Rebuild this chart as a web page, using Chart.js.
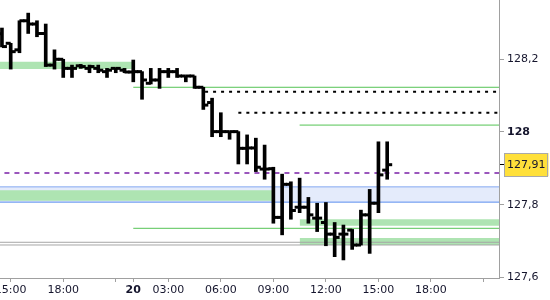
<!DOCTYPE html>
<html><head><meta charset="utf-8">
<script src="https://cdn.jsdelivr.net/npm/chart.js@4.4.1/dist/chart.umd.min.js"></script>
<style>html,body{margin:0;padding:0;background:#fff}canvas{display:block}</style>
</head><body>
<canvas id="c" width="550" height="300"></canvas>
<script>
// ---- data (30-minute OHLC bars) ----
const barTimes = ['14:30','15:00','15:30','16:00','16:30','17:00','17:30','18:00','18:30','19:00','19:30','20:00','20:30','21:00','21:30',
  '01:00','01:30','02:00','02:30','03:00','03:30','04:00','04:30','05:00','05:30','06:00','06:30','07:00','07:30','08:00','08:30',
  '09:00','09:30','10:00','10:30','11:00','11:30','12:00','12:30','13:00','13:30','14:00','14:30','15:00','15:30'];
const openP  = [128.270,128.244,128.226,128.306,128.297,128.271,128.184,128.200,128.175,128.182,128.175,128.175,128.166,128.175,128.170,
  128.165,128.166,128.134,128.143,128.166,128.166,128.154,128.154,128.123,128.081,128.001,128.001,128.001,127.955,127.956,127.898,
  127.899,127.765,127.856,127.793,127.793,127.763,127.751,127.719,127.719,127.730,127.689,127.772,127.804,127.895];
const highP  = [128.286,128.244,128.306,128.327,128.306,128.297,128.226,128.200,128.184,128.186,128.184,128.184,128.175,128.175,128.175,
  128.198,128.166,128.175,128.175,128.175,128.175,128.154,128.154,128.123,128.093,128.053,128.001,128.001,127.992,127.983,127.964,
  127.903,127.884,127.863,127.873,127.820,127.804,127.806,127.751,127.744,127.732,127.785,127.842,127.973,127.973];
const lowP   = [128.234,128.173,128.218,128.271,128.262,128.180,128.173,128.150,128.150,128.175,128.163,128.163,128.150,128.163,128.163,
  128.138,128.090,128.132,128.120,128.150,128.150,128.138,128.120,128.062,127.987,127.987,127.980,127.912,127.912,127.891,127.870,
  127.749,127.717,127.760,127.778,127.749,127.726,127.687,127.657,127.648,127.677,127.689,127.666,127.778,127.870];
const closeP = [128.235,128.221,128.306,128.297,128.271,128.184,128.200,128.175,128.175,128.180,128.180,128.170,128.170,128.175,128.165,
  128.166,128.143,128.143,128.166,128.166,128.154,128.154,128.123,128.074,128.001,128.001,128.001,127.955,127.956,127.903,127.898,
  127.765,127.856,127.784,127.793,127.772,127.763,127.719,127.710,127.719,127.689,127.772,127.804,127.882,127.910];
const lastPrice = 127.91;

// axes
const yTickValues = [127.6, 127.8, 127.91, 128, 128.2];
const xTickPositions = [1, 7, 13, 15, 19, 25, 31, 37, 43, 49, 55];
const xTickLabels = ['15:00','18:00','','20','03:00','06:00','09:00','12:00','15:00','18:00',''];
const xRange = [-0.222, 56.77];
const yRange = [127.5983, 128.3631];

// horizontal levels (value, start position in bar units)
const greenLineLevels = [128.123, 128.019, 127.735];
const greenLineStarts = [15, 34, 15];
const dottedLevels = [128.111, 128.053];
const dottedStarts = [23.2, 27];
const purpleLevel = 127.887;
const grayLevels = [127.6966, 127.6891];
const blueZone = [127.807, 127.849];
const greenZoneLow  = [128.1735, 127.811, 127.742, 127.689];
const greenZoneHigh = [128.1935, 127.840, 127.760, 127.708];
const greenZoneFrom = [-1, -1, 34, 34];
const greenZoneTo   = [14.85, 30.84, 60, 60];

// ---- build ----
const FAR_L = -2, FAR_R = 60;
const seg = (a, b, v) => [{x:a, y:v}, {x:b, y:v}];
const fmt = v => String(+v.toFixed(2)).replace('.', ',');
const FONT = 'DejaVu Sans';
const TXT = '#15152d';

const datasets = [];
datasets.push({type:'bar', data: barTimes.map((t,i)=>({x:i, y:[lowP[i], highP[i]]})),
  backgroundColor:'#000', borderWidth:0, barThickness:3, order:0});
datasets.push({type:'line', data: openP.map((v,i)=>({x:i, y:v})), showLine:false,
  pointStyle:'dash', pointRotation:180, pointRadius:5, pointBorderWidth:3, pointBorderColor:'#000', pointBackgroundColor:'#000', order:0});
datasets.push({type:'line', data: closeP.map((v,i)=>({x:i, y:v})), showLine:false,
  pointStyle:'dash', pointRotation:0, pointRadius:5, pointBorderWidth:3, pointBorderColor:'#000', pointBackgroundColor:'#000', order:0});

greenLineLevels.forEach((v,k)=>datasets.push({type:'line', data: seg(greenLineStarts[k], FAR_R, v),
  borderColor:'#55c455', borderWidth:1, pointRadius:0, fill:false, order:5}));
dottedLevels.forEach((v,k)=>datasets.push({type:'line', data: seg(dottedStarts[k], FAR_R, v),
  borderColor:'#000', borderWidth:2, borderDash:[3,5], pointRadius:0, fill:false, order:5}));
datasets.push({type:'line', data: seg(FAR_L, FAR_R, purpleLevel), borderColor:'#7a1fa6', borderWidth:1.5,
  borderDash:[5,5], pointRadius:0, fill:false, order:5});
grayLevels.forEach(v=>datasets.push({type:'line', data: seg(FAR_L, FAR_R, v),
  borderColor:'#a6a6a6', borderWidth:1, pointRadius:0, fill:false, order:5}));
// blue zone borders
datasets.push({type:'line', data: seg(FAR_L, FAR_R, blueZone[1]), borderColor:'#86a9f2', borderWidth:1, pointRadius:0, fill:false, order:6});
datasets.push({type:'line', data: seg(FAR_L, FAR_R, blueZone[0]), borderColor:'#5b8ef0', borderWidth:1, pointRadius:0, fill:false, order:6});
// green zones
greenZoneLow.forEach((v,k)=>datasets.push({type:'line', data: seg(greenZoneFrom[k], greenZoneTo[k], v),
  borderWidth:0, borderColor:'rgba(0,0,0,0)', pointRadius:0, fill:{value: greenZoneHigh[k]}, backgroundColor:'#aee4b2', order:10}));
// blue zone fill
datasets.push({type:'line', data: seg(FAR_L, FAR_R, blueZone[0]), borderWidth:0, borderColor:'rgba(0,0,0,0)',
  pointRadius:0, fill:{value: blueZone[1]}, backgroundColor:'#e4ebfb', order:12});

const priceBox = {
  id: 'priceBox',
  afterDraw(chart) {
    const s = chart.scales.y, ctx = chart.ctx;
    const y = s.getPixelForValue(lastPrice);
    ctx.save();
    ctx.font = '11px "' + FONT + '"';
    const w = ctx.measureText(fmt(lastPrice)).width;
    const left = s.left + 5 + 3 - 3;
    ctx.strokeStyle = '#a9a9a9';
    ctx.lineWidth = 1;
    ctx.strokeRect(Math.round(left) + 0.5, Math.round(y - 11.6) + 0.5, Math.round(w + 5), 23);
    ctx.restore();
  }
};

new Chart(document.getElementById('c'), {
  type: 'bar',
  data: { datasets },
  plugins: [priceBox],
  options: {
    responsive: false, animation: false, devicePixelRatio: 1, events: [],
    layout: { padding: 0, autoPadding: false },
    plugins: { legend: {display:false}, tooltip: {enabled:false} },
    scales: {
      x: {
        type: 'linear', min: xRange[0], max: xRange[1], offset: false,
        afterBuildTicks: s => { s.ticks = xTickPositions.map(v => ({value: v})); },
        afterFit: s => { s.height = 22; s.paddingLeft = 0; s.paddingRight = 0; },
        grid: { drawOnChartArea: false, drawTicks: true, tickLength: 4, color: '#a0a0a0', offset: false },
        border: { display: true, color: '#a0a0a0', width: 1 },
        ticks: {
          autoSkip: false, maxRotation: 0, minRotation: 0, padding: 2, color: TXT,
          font: c => ({family: FONT, size: 11, weight: (c.tick && xTickLabels[xTickPositions.indexOf(c.tick.value)] === '20') ? 'bold' : 'normal'}),
          callback: v => { const k = xTickPositions.indexOf(v); return k >= 0 ? xTickLabels[k] : ''; }
        }
      },
      y: {
        type: 'linear', position: 'right', min: yRange[0], max: yRange[1],
        afterBuildTicks: s => { s.ticks = yTickValues.map(v => ({value: v})); },
        afterFit: s => { s.width = 51; s.paddingTop = 0; s.paddingBottom = 0; },
        grid: { drawOnChartArea: false, drawTicks: true, tickLength: 5,
          color: c => (c.tick && c.tick.value === lastPrice) ? '#000' : '#a0a0a0' },
        border: { display: true, color: '#a0a0a0', width: 1 },
        ticks: {
          autoSkip: false, padding: 3, color: TXT,
          font: c => ({family: FONT, size: 11, weight: (c.tick && c.tick.value === 128) ? 'bold' : 'normal'}),
          callback: v => fmt(v),
          showLabelBackdrop: c => !!(c.tick && c.tick.value === lastPrice),
          backdropColor: c => {
            const s = c.chart.scales.y;
            if (!s) return '#f8c800';
            const y = s.getPixelForValue(lastPrice);
            const g = c.chart.ctx.createLinearGradient(0, y - 12, 0, y + 12);
            g.addColorStop(0, '#ffe03a'); g.addColorStop(1, '#f3b900');
            return g;
          },
          backdropPadding: {x: 3, y: 5}
        }
      }
    }
  }
});
</script>
</body></html>
